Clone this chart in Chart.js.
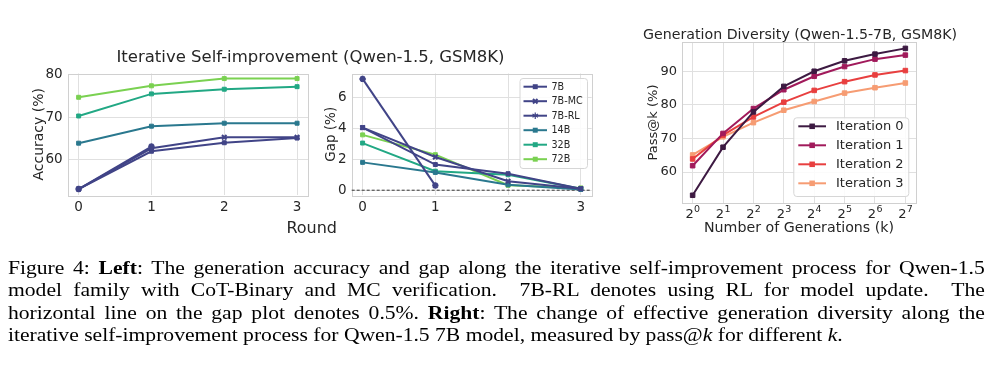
<!DOCTYPE html>
<html><head><meta charset="utf-8">
<script src="https://cdn.jsdelivr.net/npm/chart.js@4/dist/chart.umd.min.js"></script>
<style>
html,body{margin:0;padding:0;background:#fff;}
#page{position:relative;width:1000px;height:377px;overflow:hidden;background:#fff;}
canvas{position:absolute;left:0;top:0;}
#cap{position:absolute;left:8px;top:257px;width:814px;transform:scaleX(1.2);transform-origin:0 0;
 font-family:'Liberation Serif','Times New Roman',serif;font-size:18px;line-height:22.3px;color:#000;}
#cap .j{text-align:justify;text-align-last:justify;word-spacing:-2px;white-space:nowrap;}
#cap .l{white-space:nowrap;}
</style></head><body>
<div id="page">
<canvas id="c1" width="1000" height="250" style="width:1000px;height:250px"></canvas>
<canvas id="c2" width="1000" height="250" style="width:1000px;height:250px"></canvas>
<canvas id="c3" width="1000" height="250" style="width:1000px;height:250px"></canvas>
<div id="cap">
<div class="j">Figure 4: <b>Left</b>: The generation accuracy and gap along the iterative self-improvement process for Qwen-1.5</div>
<div class="j">model family with CoT-Binary and MC verification. &nbsp;7B-RL denotes using RL for model update. &nbsp;The</div>
<div class="j">horizontal line on the gap plot denotes 0.5%. <b>Right</b>: The change of effective generation diversity along the</div>
<div class="l">iterative self-improvement process for Qwen-1.5 7B model, measured by pass@<i>k</i> for different <i>k</i>.</div>
</div>
</div>
<script>
// ---------- data ----------
const rounds = [0, 1, 2, 3];
const acc7B   = [53.1, 62.0, 64.0, 65.1];
const acc7BMC = [53.1, 62.7, 65.3, 65.3];
const acc7BRL = [53.1, 63.1];
const acc14B  = [63.9, 67.9, 68.6, 68.6];
const acc32B  = [70.3, 75.5, 76.6, 77.2];
const acc72B  = [74.7, 77.4, 79.1, 79.1];

const gap7B   = [4.05, 1.66, 1.07, 0.10];
const gap7BMC = [4.05, 2.15, 0.58, 0.10];
const gap7BRL = [7.2, 0.3];
const gap14B  = [1.80, 1.15, 0.35, 0.05];
const gap32B  = [3.05, 1.23, 1.00, 0.10];
const gap72B  = [3.58, 2.30, 0.32, 0.15];

const gens  = [1, 2, 4, 8, 16, 32, 64, 128];
const iter0 = [53.1, 67.4, 77.9, 85.5, 90.0, 93.1, 95.1, 96.8];
const iter1 = [61.9, 71.5, 78.9, 84.5, 88.5, 91.4, 93.6, 94.8];
const iter2 = [63.9, 71.0, 76.4, 80.8, 84.3, 86.9, 88.9, 90.2];
const iter3 = [65.1, 70.5, 74.7, 78.4, 81.0, 83.5, 85.1, 86.5];

const accTicks  = [60, 70, 80];
const gapTicks  = [0, 2, 4, 6];
const passTicks = [60, 70, 80, 90];
const gapRefLine = 0;

// ---------- style ----------
const FONT = "'DejaVu Sans', sans-serif";
const TXT = '#262626';
const GRID = '#e0e0e0';
const FRAME = '#d0d0d0';
const C7 = '#414487', C14 = '#2a788e', C32 = '#22a884', C72 = '#7ad151';
const R0 = '#3d1a42', R1 = '#a11a5b', R2 = '#e83f3f', R3 = '#f69c73';

function pts(xs, ys) { return ys.map((y, i) => ({ x: xs[i], y: y })); }
function ds(label, xs, ys, color, style, r) {
  return { label, data: pts(xs, ys), borderColor: color, backgroundColor: color,
    borderWidth: 2, pointStyle: style || 'rect', pointRadius: r || 2.8,
    pointBorderWidth: style === 'crossRot' || style === 'star' ? 2 : 1,
    pointBorderColor: color, pointBackgroundColor: color, tension: 0, fill: false };
}

function drawMarker(ctx, style, x, y, r, color) {
  ctx.save();
  ctx.fillStyle = color; ctx.strokeStyle = color;
  if (style === 'rect') {
    const s = r * Math.SQRT1_2 + 0.5;
    ctx.fillRect(x - s, y - s, 2 * s, 2 * s);
  } else if (style === 'crossRot') {
    const s = r * Math.SQRT1_2; ctx.lineWidth = 2;
    ctx.beginPath(); ctx.moveTo(x - s, y - s); ctx.lineTo(x + s, y + s);
    ctx.moveTo(x - s, y + s); ctx.lineTo(x + s, y - s); ctx.stroke();
  } else if (style === 'star') {
    ctx.lineWidth = 1.2; ctx.beginPath();
    for (let k = 0; k < 3; k++) {
      const a = k * Math.PI / 3 + Math.PI / 2;
      ctx.moveTo(x - r * Math.cos(a), y - r * Math.sin(a));
      ctx.lineTo(x + r * Math.cos(a), y + r * Math.sin(a));
    }
    ctx.stroke();
  }
  ctx.restore();
}

const framePlugin = {
  id: 'frame',
  beforeDatasetsDraw(chart) {
    const a = chart.chartArea, ctx = chart.ctx;
    ctx.save(); ctx.strokeStyle = FRAME; ctx.lineWidth = 1;
    ctx.strokeRect(Math.round(a.left) + 0.5, Math.round(a.top) + 0.5,
      Math.round(a.right - a.left), Math.round(a.bottom - a.top));
    ctx.restore();
  }
};

const hlinePlugin = {
  id: 'hline',
  beforeDatasetsDraw(chart, args, o) {
    if (!o || o.value === undefined) return;
    const a = chart.chartArea, ctx = chart.ctx;
    const y = chart.scales.y.getPixelForValue(o.value);
    ctx.save(); ctx.strokeStyle = '#333'; ctx.lineWidth = 1; ctx.setLineDash([3, 2]);
    ctx.beginPath(); ctx.moveTo(a.left, y); ctx.lineTo(a.right, y); ctx.stroke();
    ctx.restore();
  }
};

const legendPlugin = {
  id: 'boxLegend',
  afterDraw(chart, args, o) {
    if (!o || !o.w) return;
    const ctx = chart.ctx;
    ctx.save();
    ctx.beginPath();
    ctx.roundRect(o.x + 0.5, o.y + 0.5, o.w, o.h, 3);
    ctx.fillStyle = 'rgba(255,255,255,0.85)'; ctx.fill();
    ctx.strokeStyle = '#d6d6d6'; ctx.lineWidth = 1; ctx.stroke();
    chart.data.datasets.forEach((d, i) => {
      const yy = o.row0 + i * o.rowH;
      ctx.strokeStyle = d.borderColor; ctx.lineWidth = d.borderWidth;
      ctx.beginPath(); ctx.moveTo(o.lx0, yy); ctx.lineTo(o.lx1, yy); ctx.stroke();
      drawMarker(ctx, d.pointStyle, (o.lx0 + o.lx1) / 2, yy, d.pointRadius, d.borderColor);
      ctx.fillStyle = TXT; ctx.font = o.size + 'px ' + FONT;
      ctx.textAlign = 'left'; ctx.textBaseline = 'middle';
      ctx.fillText(d.label, o.tx, yy + 0.5);
    });
    ctx.restore();
  }
};

const textPlugin = {
  id: 'texts',
  afterDraw(chart, args, o) {
    if (!o || !o.items) return;
    const ctx = chart.ctx;
    o.items.forEach(t => {
      ctx.save();
      ctx.fillStyle = TXT; ctx.font = t.size + 'px ' + FONT;
      ctx.textAlign = 'center'; ctx.textBaseline = 'alphabetic';
      ctx.translate(t.x, t.y);
      if (t.rot) ctx.rotate(-Math.PI / 2);
      ctx.fillText(t.text, 0, 0);
      ctx.restore();
    });
  }
};

// power-of-two tick labels with real superscripts, placed by the x scale
const powTickPlugin = {
  id: 'powTicks',
  afterDraw(chart, args, o) {
    if (!o || !o.values) return;
    const ctx = chart.ctx, sx = chart.scales.x, base = chart.chartArea.bottom + o.dy;
    ctx.save(); ctx.fillStyle = TXT; ctx.textBaseline = 'alphabetic';
    o.values.forEach(v => {
      const x = sx.getPixelForValue(v);
      const e = String(Math.round(Math.log2(v)));
      ctx.font = o.size + 'px ' + FONT; const w1 = ctx.measureText('2').width;
      ctx.font = o.supSize + 'px ' + FONT; const w2 = ctx.measureText(e).width;
      const left = x - (w1 + w2) / 2;
      ctx.font = o.size + 'px ' + FONT; ctx.textAlign = 'left';
      ctx.fillText('2', left, base);
      ctx.font = o.supSize + 'px ' + FONT;
      ctx.fillText(e, left + w1 + 0.3, base - o.rise);
    });
    ctx.restore();
  }
};

function linearAxis(min, max, tickVals, size, pad, fit, horiz) {
  return {
    type: 'linear', min, max,
    afterBuildTicks: s => { s.ticks = tickVals.map(v => ({ value: v })); },
    afterFit: s => { if (horiz) s.height = fit; else s.width = fit; },
    grid: { color: GRID, lineWidth: 1, drawTicks: false },
    border: { display: false },
    ticks: { font: { family: FONT, size }, color: TXT, padding: pad, autoSkip: false, maxRotation: 0 }
  };
}

function baseOptions(padding, scales, plugins) {
  return {
    responsive: false, animation: false, devicePixelRatio: 1,
    layout: { padding },
    scales,
    plugins: Object.assign({ legend: { display: false }, tooltip: { enabled: false } }, plugins),
    events: []
  };
}

// ---------- chart 1: accuracy ----------
new Chart(document.getElementById('c1'), {
  type: 'line',
  data: { datasets: [
    ds('7B', rounds, acc7B, C7, 'rect', 2.8),
    ds('7B-MC', rounds, acc7BMC, C7, 'crossRot', 3.2),
    ds('7B-RL', rounds, acc7BRL, C7, 'star', 3.2),
    ds('14B', rounds, acc14B, C14, 'rect', 2.8),
    ds('32B', rounds, acc32B, C32, 'rect', 2.8),
    ds('72B', rounds, acc72B, C72, 'rect', 2.8)
  ]},
  options: baseOptions({ left: 27.7, right: 692, top: 73.5, bottom: 35 }, {
    x: linearAxis(-0.15, 3.15, rounds, 13.5, 4, 20, true),
    y: linearAxis(51.7, 80.3, accTicks, 13.5, 5, 40, false)
  }, {
    texts: { items: [
      { text: 'Iterative Self-improvement (Qwen-1.5, GSM8K)', x: 310.5, y: 61.5, size: 16.5 },
      { text: 'Round', x: 311.7, y: 233.3, size: 16 },
      { text: 'Accuracy (%)', x: 43, y: 134.3, size: 14, rot: true }
    ]}
  }),
  plugins: [framePlugin, textPlugin]
});

// ---------- chart 2: gap ----------
new Chart(document.getElementById('c2'), {
  type: 'line',
  data: { datasets: [
    ds('7B', rounds, gap7B, C7, 'rect', 2.8),
    ds('7B-MC', rounds, gap7BMC, C7, 'crossRot', 3.2),
    ds('7B-RL', rounds, gap7BRL, C7, 'star', 3.2),
    ds('14B', rounds, gap14B, C14, 'rect', 2.8),
    ds('32B', rounds, gap32B, C32, 'rect', 2.8),
    ds('72B', rounds, gap72B, C72, 'rect', 2.8)
  ]},
  options: baseOptions({ left: 311.7, right: 408.3, top: 73.5, bottom: 35 }, {
    x: linearAxis(-0.15, 3.15, rounds, 13.5, 4, 20, true),
    y: linearAxis(-0.31, 7.55, gapTicks, 13.5, 5, 40, false)
  }, {
    hline: { value: gapRefLine },
    boxLegend: { x: 519.5, y: 78, w: 67.5, h: 90, row0: 86.7, rowH: 14.5,
      lx0: 523.5, lx1: 547, tx: 551.5, size: 9.6 },
    texts: { items: [
      { text: 'Gap (%)', x: 334.5, y: 134.3, size: 13.5, rot: true }
    ]}
  }),
  plugins: [framePlugin, hlinePlugin, legendPlugin, textPlugin]
});

// ---------- chart 3: pass@k ----------
new Chart(document.getElementById('c3'), {
  type: 'line',
  data: { datasets: [
    ds('Iteration 0', gens, iter0, R0, 'rect', 3.2),
    ds('Iteration 1', gens, iter1, R1, 'rect', 3.2),
    ds('Iteration 2', gens, iter2, R2, 'rect', 3.2),
    ds('Iteration 3', gens, iter3, R3, 'rect', 3.2)
  ]},
  options: baseOptions({ left: 642, right: 84, top: 42, bottom: 27 }, {
    x: {
      type: 'logarithmic', min: Math.pow(2, -0.35), max: Math.pow(2, 7.35),
      afterBuildTicks: s => { s.ticks = gens.map(v => ({ value: v })); },
      afterFit: s => { s.height = 20; },
      grid: { color: GRID, lineWidth: 1, drawTicks: false },
      border: { display: false },
      ticks: { display: false }
    },
    y: linearAxis(50.8, 98.7, passTicks, 13, 5, 40, false)
  }, {
    powTicks: { values: gens, size: 13, supSize: 9.5, rise: 5.5, dy: 14.5 },
    boxLegend: { x: 793.3, y: 117.3, w: 115, h: 78.7, row0: 126.3, rowH: 19,
      lx0: 798.3, lx1: 826, tx: 836, size: 13 },
    texts: { items: [
      { text: 'Generation Diversity (Qwen-1.5-7B, GSM8K)', x: 800, y: 39, size: 14.2 },
      { text: 'Number of Generations (k)', x: 799, y: 232.3, size: 14.2 },
      { text: 'Pass@k (%)', x: 657, y: 122.5, size: 13, rot: true }
    ]}
  }),
  plugins: [framePlugin, powTickPlugin, legendPlugin, textPlugin]
});
</script>
</body></html>
